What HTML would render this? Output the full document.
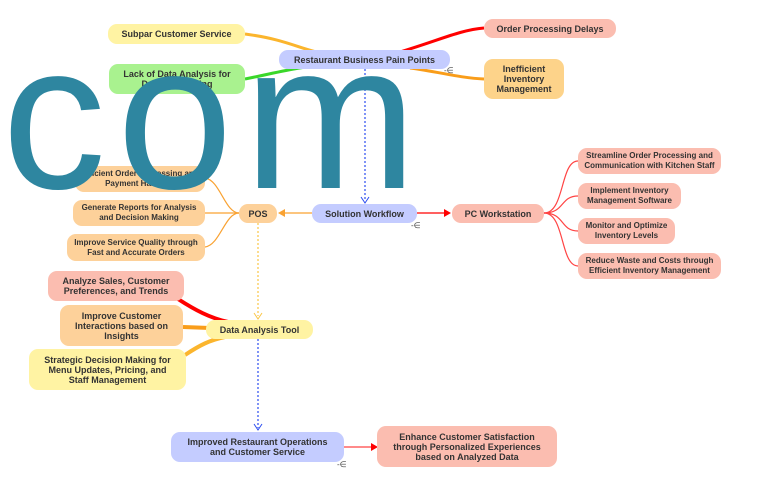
<!DOCTYPE html>
<html><head><meta charset="utf-8"><style>
body{margin:0;width:768px;height:479px;background:#fff;position:relative;overflow:hidden;font-family:"Liberation Sans",sans-serif}
.n{position:absolute;box-sizing:border-box;display:flex;align-items:center;justify-content:center;text-align:center;font-weight:bold;font-size:9px;line-height:10px;color:#333;border-radius:9px}
.y{background:#fff3a3}.b{background:#c4ccff}.g{background:#a9f28f}.s{background:#fbbdb0}.o{background:#fdd19a}
.wm{position:absolute;left:2px;top:13px;font-size:208px;color:#2e86a0;font-family:"Liberation Sans",sans-serif;line-height:1;letter-spacing:11px}
.e{position:absolute;font-size:8px;color:#444}
</style></head><body>
<svg width="768" height="479" style="position:absolute;left:0;top:0">
<path d="M245 34 C290 40 300 50 330 55" stroke="#fbb52d" stroke-width="3" fill="none"/>
<path d="M245 79 C280 72 300 66 330 65" stroke="#3ad72a" stroke-width="3" fill="none"/>
<path d="M400 52 C440 40 460 30 484 28" stroke="#f00" stroke-width="3" fill="none"/>
<path d="M410 68 C440 72 460 78 484 79" stroke="#f99d1a" stroke-width="3" fill="none"/>
<path d="M365 69 L365 200" stroke="#2b4cf0" stroke-width="1.2" stroke-dasharray="2,2" fill="none"/>
<path d="M361 197 L365 203 L369 197" stroke="#2b4cf0" fill="none"/>
<path d="M312 213 L283 213" stroke="#f9a232" stroke-width="1.3"/>
<path d="M278 213 L285 209 L285 217Z" fill="#f9a232"/>
<path d="M417 213 L446 213" stroke="#f00" stroke-width="1.3"/>
<path d="M451 213 L444 209 L444 217Z" fill="#f00"/>
<g stroke="#f9a232" stroke-width="1.2" fill="none">
<path d="M239 213 C225 213 220 180 205 178"/><path d="M239 213 L205 213"/><path d="M239 213 C225 213 220 245 205 247"/></g>
<g stroke="#f44" stroke-width="1.2" fill="none">
<path d="M544 213 C565 213 560 161 578 161"/><path d="M544 213 C565 213 560 196 578 196"/><path d="M544 213 C565 213 560 231 578 231"/><path d="M544 213 C565 213 560 266 578 266"/></g>
<path d="M258 223 L258 316" stroke="#fbc645" stroke-width="1.2" stroke-dasharray="2,2"/>
<path d="M254 313 L258 319 L262 313" stroke="#fbc645" fill="none"/>
<path d="M178 299 C195 310 210 318 228 322" stroke="#f00" stroke-width="4" fill="none"/>
<path d="M183 327 L210 328" stroke="#f99d1a" stroke-width="4" fill="none"/>
<path d="M185 355 C200 345 210 340 225 337" stroke="#fbb52d" stroke-width="4" fill="none"/>
<path d="M258 339 L258 428" stroke="#2b4cf0" stroke-width="1.2" stroke-dasharray="2,2"/>
<path d="M254 424 L258 430 L262 424" stroke="#2b4cf0" fill="none"/>
<path d="M344 447 L372 447" stroke="#f44" stroke-width="1.3"/>
<path d="M378 447 L371 443 L371 451Z" fill="#f00"/>
</svg>
<div class="n y" style="left:108px;top:24px;width:137px;height:20px">Subpar Customer Service</div>
<div class="n b" style="left:279px;top:50px;width:171px;height:19px">Restaurant Business Pain Points</div>
<div class="n g" style="left:109px;top:64px;width:136px;height:30px">Lack of Data Analysis for<br>Decision Making</div>
<div class="n s" style="left:484px;top:19px;width:132px;height:19px">Order Processing Delays</div>
<div class="n o" style="left:484px;top:59px;width:80px;height:40px;background:#fdd38a">Inefficient<br>Inventory<br>Management</div>
<div class="n o" style="left:75px;top:166px;width:130px;height:26px;font-size:8px">Efficient Order Processing and<br>Payment Handling</div>
<div class="n o" style="left:73px;top:200px;width:132px;height:26px;font-size:8px">Generate Reports for Analysis<br>and Decision Making</div>
<div class="n o" style="left:67px;top:234px;width:138px;height:27px;font-size:8px">Improve Service Quality through<br>Fast and Accurate Orders</div>
<div class="n o" style="left:239px;top:204px;width:38px;height:19px">POS</div>
<div class="n b" style="left:312px;top:204px;width:105px;height:19px">Solution Workflow</div>
<div class="n s" style="left:452px;top:204px;width:92px;height:19px">PC Workstation</div>
<div class="n s" style="left:578px;top:148px;width:143px;height:26px;font-size:8px">Streamline Order Processing and<br>Communication with Kitchen Staff</div>
<div class="n s" style="left:578px;top:183px;width:103px;height:26px;font-size:8px">Implement Inventory<br>Management Software</div>
<div class="n s" style="left:578px;top:218px;width:97px;height:26px;font-size:8px">Monitor and Optimize<br>Inventory Levels</div>
<div class="n s" style="left:578px;top:253px;width:143px;height:26px;font-size:8px">Reduce Waste and Costs through<br>Efficient Inventory Management</div>
<div class="n s" style="left:48px;top:271px;width:136px;height:30px">Analyze Sales, Customer<br>Preferences, and Trends</div>
<div class="n o" style="left:60px;top:305px;width:123px;height:41px">Improve Customer<br>Interactions based on<br>Insights</div>
<div class="n y" style="left:29px;top:349px;width:157px;height:41px">Strategic Decision Making for<br>Menu Updates, Pricing, and<br>Staff Management</div>
<div class="n y" style="left:206px;top:320px;width:107px;height:19px">Data Analysis Tool</div>
<div class="n b" style="left:171px;top:432px;width:173px;height:30px">Improved Restaurant Operations<br>and Customer Service</div>
<div class="n s" style="left:377px;top:426px;width:180px;height:41px">Enhance Customer Satisfaction<br>through Personalized Experiences<br>based on Analyzed Data</div>
<div class="e" style="left:444px;top:66px">-∈</div>
<div class="e" style="left:411px;top:221px">-∈</div>
<div class="e" style="left:337px;top:460px">-∈</div>
<div class="wm">com</div>
</body></html>
